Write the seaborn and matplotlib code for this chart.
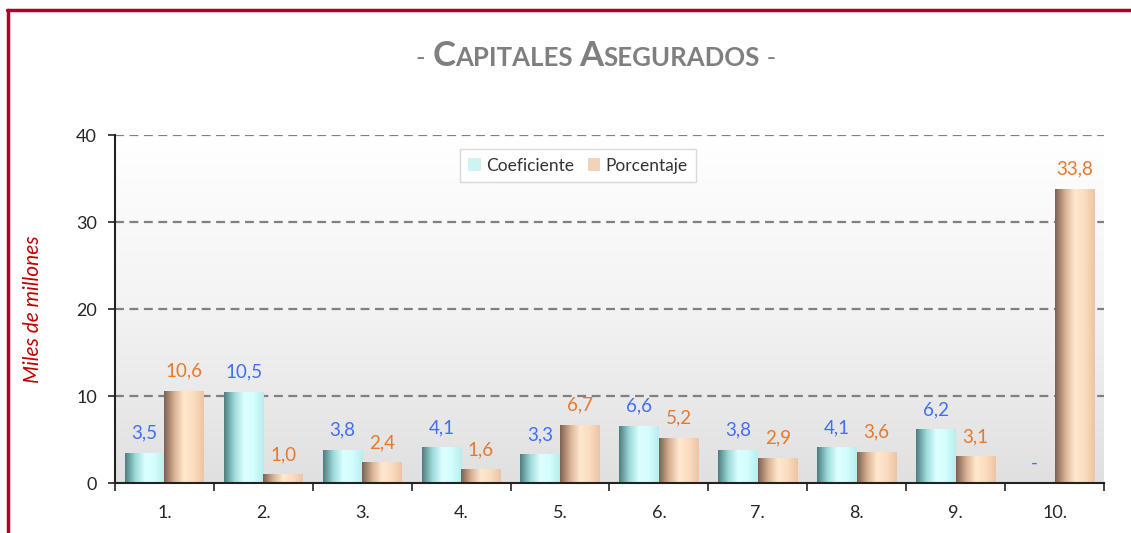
import numpy as np
import pandas as pd
import matplotlib
matplotlib.use("Agg")
import matplotlib.pyplot as plt
import seaborn as sns
from matplotlib.colors import LinearSegmentedColormap
from matplotlib.lines import Line2D

# Data
categorias = ["1.", "2.", "3.", "4.", "5.", "6.", "7.", "8.", "9.", "10."]
coeficiente = [3.5, 10.5, 3.8, 4.1, 3.3, 6.6, 3.8, 4.1, 6.2, 0.0]
porcentaje = [10.6, 1.0, 2.4, 1.6, 6.7, 5.2, 2.9, 3.6, 3.1, 33.8]
series = ["Coeficiente", "Porcentaje"]

df = pd.DataFrame({
    "cat": categorias * 2,
    "serie": [series[0]] * len(categorias) + [series[1]] * len(categorias),
    "valor": coeficiente + porcentaje,
})

sns.set_theme(style="white")
plt.rcParams["font.family"] = ["Lato", "DejaVu Sans"]

col_coef = "#c6fafa"
col_porc = "#f9d2b2"
lab_coef = "#3f6ff2"
lab_porc = "#e8782a"

fig = plt.figure(figsize=(11.31, 5.33), dpi=100)
ax = fig.add_axes([0.1017, 0.0938, 0.8744, 0.6529])

# plot-area background gradient
bg = np.linspace(0, 1, 256).reshape(-1, 1)
bg_cmap = LinearSegmentedColormap.from_list("bg", ["#ffffff", "#f3f3f3", "#e0e0e0"])
ax.imshow(bg, extent=[-0.5, 9.5, 0, 40], aspect="auto", cmap=bg_cmap,
          origin="upper", zorder=0)

sns.barplot(data=df, x="cat", y="valor", hue="serie", order=categorias,
            hue_order=series, palette=[col_coef, col_porc], width=0.8,
            linewidth=0, edgecolor="none", ax=ax, zorder=3)

# cylinder-like shading on the bars
cmaps = {
    0: LinearSegmentedColormap.from_list("c", ["#4f7f7f", "#9ad8d8", "#dcffff", "#d4fdfd", "#b8eeee"]),
    1: LinearSegmentedColormap.from_list("p", ["#7e6252", "#d8b092", "#ffe8cf", "#fbdcc0", "#eec4a4"]),
}
grad = np.linspace(0, 1, 64).reshape(1, -1)
for i, cont in enumerate(ax.containers):
    for p in cont.patches:
        x0, y0 = p.get_x(), p.get_y()
        w, h = p.get_width(), p.get_height()
        if h <= 0:
            continue
        im = ax.imshow(grad, extent=[x0, x0 + w, y0, y0 + h], aspect="auto",
                       cmap=cmaps[i], zorder=3.5)
        im.set_clip_path(p)

# value labels
for i, cont in enumerate(ax.containers):
    vals = coeficiente if i == 0 else porcentaje
    labs = [("-" if v == 0 else f"{v:.1f}".replace(".", ",")) for v in vals]
    ax.bar_label(cont, labels=labs, padding=8, fontsize=13.5,
                 color=lab_coef if i == 0 else lab_porc)

ax.set_xlim(-0.5, 9.5)
ax.set_ylim(0, 40)

# grid
for yv in [10, 20, 30, 40]:
    ax.axhline(yv, color="#808080", lw=1.6, ls=(0, (4, 2.5)), zorder=2)

for s in ["top", "right"]:
    ax.spines[s].set_visible(False)
for s in ["left", "bottom"]:
    ax.spines[s].set_color("#222222")
    ax.spines[s].set_linewidth(1.5)
    ax.spines[s].set_zorder(5)

ax.set_yticks([0, 10, 20, 30, 40])
ax.tick_params(axis="y", left=True, direction="out", length=5, width=1.2,
               color="#222222", labelsize=13, labelcolor="#262626", pad=8)
ax.set_xticks(range(len(categorias)))
ax.set_xticklabels(categorias)
ax.tick_params(axis="x", bottom=False, labelsize=13, labelcolor="#262626", pad=10)
ax.set_xticks(np.arange(-0.5, 10, 1), minor=True)
ax.tick_params(axis="x", which="minor", bottom=True, direction="out", length=6,
               width=1.2, color="#222222")
ax.set_xlabel("")
ax.set_ylabel("Miles de millones", color="#c00000", fontsize=15,
              fontstyle="italic", labelpad=24)

leg = ax.legend(loc="upper center", bbox_to_anchor=(0.468, 0.985), ncol=2,
                fontsize=12.5, frameon=True, fancybox=False, framealpha=1,
                edgecolor="#d9d9d9", handlelength=0.7, handleheight=0.7,
                handletextpad=0.3, columnspacing=0.8, borderpad=0.5,
                labelcolor="#333333")
leg.get_frame().set_linewidth(1)

# title with small caps
pieces = [("- ", 18.5, "normal"), ("C", 25, "bold"), ("APITALES ", 18.5, "bold"),
          ("A", 25, "bold"), ("SEGURADOS", 18.5, "bold"), (" -", 18.5, "normal")]
fig.canvas.draw()
renderer = fig.canvas.get_renderer()
W = fig.get_figwidth() * fig.dpi
texts, x = [], 0.0
for txt, sz, wt in pieces:
    t = fig.text(x, 0.876, txt, fontsize=sz, fontweight=wt, color="#7f7f7f",
                 ha="left", va="baseline")
    x += t.get_window_extent(renderer).width / W
    texts.append(t)
start = 0.527 - x / 2
for t in texts:
    px, py = t.get_position()
    t.set_position((px + start, py))

# chart frame
fig.add_artist(Line2D([0.0075, 0.0075], [0, 0.982], color="#b0002a", lw=2.5,
                      transform=fig.transFigure))
fig.add_artist(Line2D([0.0064, 1], [0.981, 0.981], color="#b0002a", lw=2.5,
                      transform=fig.transFigure))

fig.savefig("out.png", dpi=100, facecolor="white")
